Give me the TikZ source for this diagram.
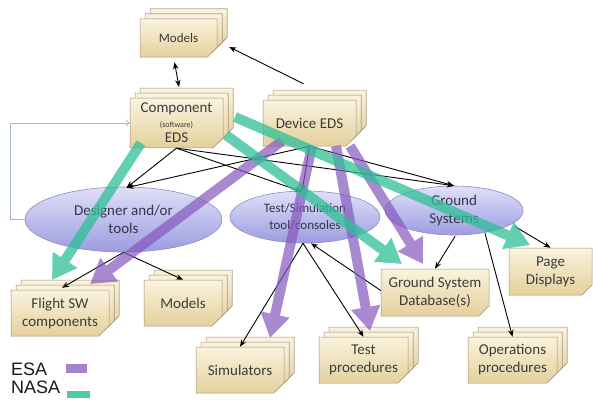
\documentclass[tikz,border=0pt]{standalone}
\usepackage{fontspec}
\setmainfont{Carlito}
\newfontfamily\legendfont{Liberation Sans}
\usetikzlibrary{shapes.misc,shapes.geometric,shadows,arrows.meta,calc}
\definecolor{docT}{HTML}{FAF3DE}
\definecolor{docB}{HTML}{E4D09C}
\definecolor{docD}{HTML}{9E9276}
\definecolor{ellT}{HTML}{E0E0FA}
\definecolor{ellB}{HTML}{9C9CE0}
\definecolor{ellD}{HTML}{8C8CC8}
\definecolor{txt}{HTML}{3C3C3C}
\definecolor{etxt}{HTML}{34344A}
\definecolor{nasaC}{HTML}{2EC096}
\definecolor{esaC}{HTML}{8558BC}
\definecolor{fbC}{HTML}{A4B8CE}
\begin{document}
\begin{tikzpicture}[x=1pt,y=-1pt,
  doc/.style={chamfered rectangle, chamfered rectangle corners=south east,
    chamfered rectangle sep=5pt, draw=docD, line width=0.5pt,
    top color=docT, bottom color=docB, inner sep=0pt, align=center,
    text=txt, font=\fontsize{15}{18}\selectfont},
  stackdoc/.style={doc,
    copy shadow={shadow xshift=10pt,shadow yshift=10pt,draw=docD,top color=docT,bottom color=docB},
    copy shadow={shadow xshift=5pt,shadow yshift=5pt,draw=docD,top color=docT,bottom color=docB}},
  ell/.style={ellipse, draw=ellD, line width=0.6pt, top color=ellT, bottom color=ellB,
    inner sep=0pt, align=center, text=etxt, font=\fontsize{15}{18}\selectfont},
  conn/.style={draw=black, line width=0.9pt, -{Stealth[length=7pt,width=5.5pt]}},
  fb/.style={draw=fbC, line width=0.8pt, -{To[length=4pt,width=7pt]}},
  nasa/.style={draw=nasaC, line width=10pt, -{Triangle[length=24pt,width=28pt]}},
  esa/.style={draw=esaC, line width=10pt, -{Triangle[length=24pt,width=28pt]}},
  tgrp/.style={transparency group, opacity=#1}
]
\useasboundingbox (0,0) rectangle (593,404);
\fill[white] (0,0) rectangle (593,404);

% documents
\node[stackdoc, minimum width=77pt, minimum height=38pt, font=\fontsize{13}{16}\selectfont] (modelsT) at (178.5,38) {Models};
\node[stackdoc, minimum width=93pt, minimum height=48pt] (comp) at (176.5,123)
  {Component\\[-3pt]{\fontsize{8}{10}\selectfont (software)}\\[-3pt]EDS};
\node[stackdoc, minimum width=93pt, minimum height=46pt] (dev) at (309.5,123) {Device EDS};
\node[stackdoc, minimum width=98pt, minimum height=46pt] (flight) at (60,313) {Flight SW\\components};
\node[stackdoc, minimum width=78pt, minimum height=46pt] (modelsB) at (183,303) {Models};
\node[stackdoc, minimum width=88pt, minimum height=46pt] (sim) at (240,370) {Simulators};
\node[stackdoc, minimum width=89pt, minimum height=46pt] (testproc) at (363.5,360) {Test\\procedures};
\node[stackdoc, minimum width=89pt, minimum height=46pt] (ops) at (512.5,360) {Operations\\procedures};
\node[doc, minimum width=108pt, minimum height=47pt] (db) at (435,292.5) {Ground System\\Database(s)};
\node[doc, minimum width=83pt, minimum height=47pt] (page) at (550.5,271.5) {Page\\Displays};

% ellipses
\node[ell, minimum width=197pt, minimum height=65pt] (designer) at (123.5,219.5) {Designer and/or\\tools};
\node[ell, minimum width=150pt, minimum height=52pt, font=\fontsize{13}{17}\selectfont] (testsim) at (305,217) {Test/Simulation\\tool/consoles};
\node[ell, minimum width=138pt, minimum height=49pt] (ground) at (454,210.5) {Ground\\Systems};

% feedback line
\draw[fb] (designer.west) -- ++(-14,0) |- (comp.west);

% black connectors
\draw[draw=black, line width=0.9pt, {Stealth[length=7pt,width=5.5pt]}-{Stealth[length=7pt,width=5.5pt]}]
  ($(modelsT.south)+(-4,5)$) -- ($(comp.north)+(2.5,-11)$);
\draw[conn] ($(dev.north)+(-6,-16)$) -- ($(modelsT.east)+(12,9)$);
\draw[conn] (comp.south) -- ($(designer.north)+(3,1)$);
\draw[conn] (comp.south) -- ($(testsim.north)+(-3,1)$);
\draw[conn] (comp.south) -- (ground.north);
\draw[conn] (dev.south) -- ($(designer.north)+(3,1)$);
\draw[conn] (dev.south) -- ($(testsim.north)+(-3,1)$);
\draw[conn] (dev.south) -- (ground.north);
\draw[conn] (designer.south) -- ($(flight.north)+(2,-2)$);
\draw[conn] (designer.south) -- (modelsB.north);
\draw[conn] ($(testsim.south)+(-2,0)$) -- (sim.north);
\draw[conn] ($(testsim.south)+(-2,0)$) -- (testproc.north);
\draw[conn] ($(db.west)+(0,-2)$) -- ($(testsim.south)+(6,0)$);
\draw[conn] ($(ground.south)+(1,1)$) -- (db.north);
\draw[conn] ($(ground.south)+(31,-2)$) -- (ops.north);
\draw[conn] ($(ground.center)+(61,16)$) -- (page.north);

% colored thick arrows
\begin{scope}[tgrp=0.7]\draw[esa] ($(dev.center)+(-27.5,18)$) -- ($(flight.center)+(30,-29)$);\end{scope}
\begin{scope}[tgrp=0.7]\draw[esa] ($(dev.center)+(2.5,23)$) -- ($(sim.center)+(30,-32)$);\end{scope}
\begin{scope}[tgrp=0.7]\draw[esa] ($(dev.center)+(26.5,23)$) -- ($(testproc.center)+(6.5,-29)$);\end{scope}
\begin{scope}[tgrp=0.7]\draw[esa] ($(dev.center)+(40.5,23)$) -- ($(db.center)+(-12,-28.5)$);\end{scope}
\begin{scope}[tgrp=0.75]\draw[nasa] ($(comp.center)+(-35.5,20)$) -- ($(flight.center)+(-8,-33)$);\end{scope}
\begin{scope}[tgrp=0.75]\draw[nasa] ($(comp.center)+(58.5,-6)$) -- ($(page.center)+(-20.5,-26.5)$);\end{scope}
\begin{scope}[tgrp=0.75]\draw[nasa] ($(comp.center)+(49.5,12)$) -- ($(db.center)+(-33,-28.5)$);\end{scope}

% legend
\node[font=\legendfont\fontsize{18}{18}\selectfont, anchor=base west, inner sep=0pt, text=black!90] (esalab) at (11,375) {ESA};
\node[fill=esaC!75, minimum width=21pt, minimum height=9pt, inner sep=0pt] (esabox) at (76.5,368.5) {};
\node[font=\legendfont\fontsize{18}{18}\selectfont, anchor=base west, inner sep=0pt, text=black!90] (nasalab) at (11,393) {NASA};
\node[fill=nasaC!85, minimum width=23pt, minimum height=7pt, inner sep=0pt] (nasabox) at (78.5,394) {};
\end{tikzpicture}
\end{document}
